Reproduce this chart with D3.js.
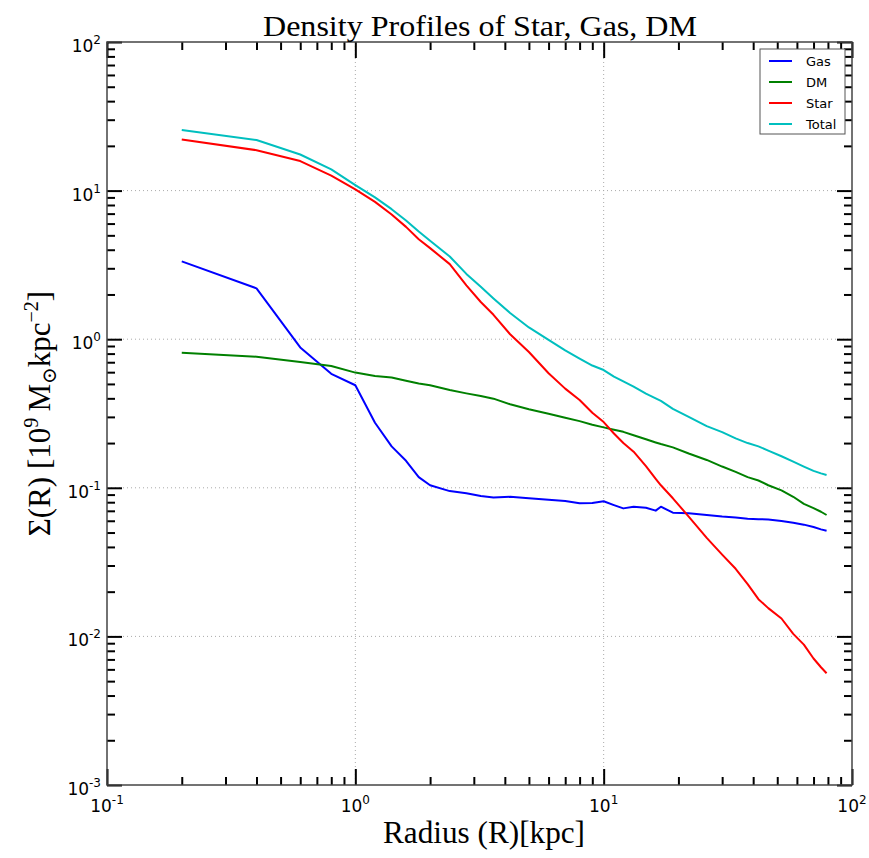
<!DOCTYPE html>
<html>
<head>
<meta charset="utf-8">
<script src="https://cdn.jsdelivr.net/npm/d3@7"></script>
<style>
  body { margin: 0; background: #fff; }
  svg { display: block; }
</style>
</head>
<body>
<div id="chart"></div>
<script>
// radius sample points (kpc) shared by all profiles
let radius = [0.2,0.4,0.6,0.8,1.0,1.2,1.4,1.6,1.8,2.0,2.4,2.8,3.2,3.6,4.2,5,6,7,8,9,10,11,12,13.2,14.8,16.2,17,19,22,26,30,34,38,42,46,52,58,64,70,75,79]

let gas = [3.34,2.2,0.88,0.585,0.49,0.274,0.19,0.152,0.118,0.104,0.095,0.092,0.088,0.086,0.087,0.085,0.083,0.0815,0.0787,0.079,0.0812,0.0765,0.0727,0.0746,0.0735,0.0702,0.0746,0.068,0.0673,0.0656,0.064,0.0632,0.062,0.0615,0.0612,0.0598,0.0582,0.0565,0.0545,0.0525,0.0514]

let dm = [0.811,0.762,0.703,0.661,0.596,0.565,0.553,0.525,0.503,0.49,0.455,0.432,0.415,0.398,0.365,0.338,0.315,0.296,0.281,0.266,0.255,0.246,0.238,0.226,0.212,0.202,0.197,0.187,0.170,0.154,0.139,0.128,0.118,0.112,0.104,0.096,0.087,0.078,0.073,0.069,0.0656]

let star = [22.1,18.7,15.8,12.6,10.2,8.4,6.9,5.7,4.7,4.1,3.2,2.3,1.78,1.46,1.08,0.82,0.59,0.465,0.39,0.32,0.277,0.232,0.2,0.175,0.14,0.115,0.104,0.085,0.064,0.046,0.0355,0.0285,0.0225,0.0178,0.0155,0.0132,0.0104,0.0088,0.0071,0.0062,0.00565]

let total = [25.6,21.9,17.5,13.9,10.9,9.0,7.5,6.3,5.3,4.6,3.6,2.75,2.25,1.88,1.5,1.2,0.99,0.84,0.74,0.665,0.62,0.56,0.52,0.48,0.43,0.40,0.385,0.34,0.30,0.26,0.237,0.215,0.2,0.19,0.178,0.163,0.15,0.139,0.13,0.125,0.122]

let seriesNames = ["Gas","DM","Star","Total"]
let seriesColors = ["#0000ff","#008000","#ff0000","#00bfbf"]
let seriesValues = [gas, dm, star, total]

let xMajor = [0.1,1,10,100]
let xExp = ["-1","0","1","2"]
let yMajor = [0.001,0.01,0.1,1,10,100]
let yExp = ["-3","-2","-1","0","1","2"]

let W = 869, H = 858
let L = 107, R = 852, T = 42, B = 785

let svg = d3.select("#chart").append("svg")
svg.attr("width", W)
svg.attr("height", H)

let x = d3.scaleLog().domain([0.1,100]).range([L,R])
let y = d3.scaleLog().domain([0.001,100]).range([B,T])

function minorTicks(majors) {
  let out = []
  for (let i = 0; i < majors.length - 1; i++) {
    for (let k = 2; k <= 9; k++) out.push(majors[i]*k)
  }
  return out
}

// grid
let grid = svg.append("g")
grid.selectAll("line.gx")
    .data(xMajor.slice(1,-1))
    .enter().append("line")
    .attr("x1", d => x(d)).attr("x2", d => x(d))
    .attr("y1", T).attr("y2", B)
    .attr("stroke", "#aaa").attr("stroke-width", 1)
    .attr("stroke-dasharray", "1,3")
grid.selectAll("line.gy")
    .data(yMajor.slice(1,-1))
    .enter().append("line")
    .attr("y1", d => y(d)).attr("y2", d => y(d))
    .attr("x1", L).attr("x2", R)
    .attr("stroke", "#aaa").attr("stroke-width", 1)
    .attr("stroke-dasharray", "1,3")

// lines
let line = d3.line()
  .x((d,i) => x(radius[i]))
  .y(d => y(d))

svg.selectAll("path.series")
   .data(seriesValues)
   .enter()
   .append("path")
   .attr("class", "series")
   .attr("d", d => line(d))
   .attr("fill", "none")
   .attr("stroke", (d,i) => seriesColors[i])
   .attr("stroke-width", 2)
   .attr("stroke-linejoin", "round")

// ticks on all four sides, pointing inward
function tickAxes(axisFn, scale, vals, len, transform) {
  let g = svg.append("g")
    .attr("transform", transform)
    .call(axisFn(scale).tickValues(vals).tickSize(len).tickFormat(""))
  g.select(".domain").remove()
  g.selectAll(".tick line").attr("stroke", "#000").attr("stroke-width", 2)
}
tickAxes(d3.axisBottom, x, xMajor, -16, `translate(0,${B})`)
tickAxes(d3.axisBottom, x, minorTicks(xMajor), -8, `translate(0,${B})`)
tickAxes(d3.axisTop, x, xMajor, -16, `translate(0,${T})`)
tickAxes(d3.axisTop, x, minorTicks(xMajor), -8, `translate(0,${T})`)
tickAxes(d3.axisLeft, y, yMajor, -15, `translate(${L},0)`)
tickAxes(d3.axisLeft, y, minorTicks(yMajor), -8, `translate(${L},0)`)
tickAxes(d3.axisRight, y, yMajor, -15, `translate(${R},0)`)
tickAxes(d3.axisRight, y, minorTicks(yMajor), -8, `translate(${R},0)`)

// frame
svg.append("rect")
   .attr("x", L).attr("y", T)
   .attr("width", R-L).attr("height", B-T)
   .attr("fill", "none")
   .attr("stroke", "#444")
   .attr("stroke-width", 1.5)

// tick labels with superscripts
let sans = "DejaVu Sans, sans-serif"
let xl = svg.selectAll("text.xl")
  .data(xMajor).enter().append("text")
  .attr("x", d => x(d)).attr("y", B + 27)
  .attr("text-anchor", "middle")
  .attr("font-family", sans).attr("font-size", 17)
xl.append("tspan").text("10")
xl.append("tspan").attr("dy", -8).attr("font-size", 12).text((d,i) => xExp[i])

let yl = svg.selectAll("text.yl")
  .data(yMajor).enter().append("text")
  .attr("x", L - 6).attr("y", d => y(d) + 10)
  .attr("text-anchor", "end")
  .attr("font-family", sans).attr("font-size", 17)
yl.append("tspan").text("10")
yl.append("tspan").attr("dy", -8).attr("font-size", 12).text((d,i) => yExp[i])

// title and axis labels
let serif = "Liberation Serif, DejaVu Serif, serif"
svg.append("text")
   .attr("x", 263).attr("y", 36)
   .attr("font-family", serif).attr("font-size", 30)
   .attr("textLength", 434)
   .attr("lengthAdjust", "spacingAndGlyphs")
   .text("Density Profiles of Star, Gas, DM")

svg.append("text")
   .attr("x", 383).attr("y", 843)
   .attr("font-family", serif).attr("font-size", 31)
   .attr("textLength", 202)
   .attr("lengthAdjust", "spacingAndGlyphs")
   .text("Radius (R)[kpc]")

let ylab = svg.append("text")
   .attr("transform", `translate(50,${(T+B)/2}) rotate(-90)`)
   .attr("text-anchor", "middle")
   .attr("font-family", serif).attr("font-size", 31)
ylab.append("tspan").text("Σ(R) [10")
ylab.append("tspan").attr("dy", -12).attr("font-size", 20).text("9")
ylab.append("tspan").attr("dy", 12).text("\u2009M")
ylab.append("tspan").attr("dy", 6).attr("font-size", 20).text("⊙")
ylab.append("tspan").attr("dy", -6).text("kpc")
ylab.append("tspan").attr("dy", -12).attr("font-size", 20).text("−2")
ylab.append("tspan").attr("dy", 12).text("]")

// legend
let leg = svg.append("g")
leg.append("rect")
   .attr("x", 760).attr("y", 49)
   .attr("width", 85).attr("height", 85)
   .attr("fill", "#fff")
   .attr("stroke", "#555").attr("stroke-width", 1)
let rows = leg.selectAll("g.row")
   .data(seriesNames).enter().append("g")
   .attr("transform", (d,i) => `translate(0,${61 + i*21})`)
rows.append("line")
   .attr("x1", 769).attr("x2", 792)
   .attr("stroke", (d,i) => seriesColors[i]).attr("stroke-width", 2)
rows.append("text")
   .attr("x", 806).attr("y", 5)
   .attr("font-family", sans).attr("font-size", 13)
   .text(d => d)
</script>
</body>
</html>
